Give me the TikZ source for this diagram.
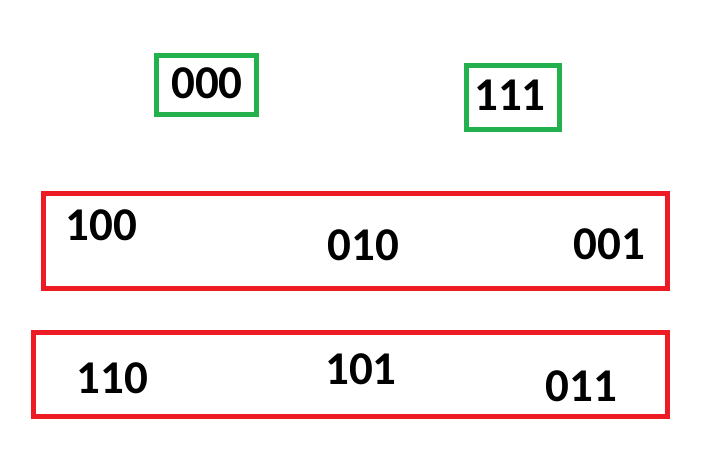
\documentclass[tikz,border=0pt]{standalone}
\usepackage{fontspec}
\setmainfont{Carlito}
\usetikzlibrary{positioning}
\definecolor{boxgreen}{HTML}{22B14C}
\definecolor{boxred}{HTML}{ED1C24}
\tikzset{
  word/.style={inner sep=0pt, font=\fontsize{47}{47}\selectfont\bfseries},
  greenbox/.style={draw=boxgreen, line width=5pt, inner sep=0pt},
  redbox/.style={draw=boxred, line width=5pt, inner sep=0pt}
}
\begin{document}
\begin{tikzpicture}[x=1pt, y=-1pt]
                \useasboundingbox (0,0) rectangle (709,454);
                \node [greenbox, minimum width=100pt, minimum height=59.3pt] (boxA) at (206.5,84.85) {};
                \node [greenbox, minimum width=92.8pt, minimum height=63.4pt] (boxB) at (512.9,97.5) {};
                \node [redbox, minimum width=623.5pt, minimum height=94.5pt] (rowA) at (355.25,240.75) {};
                \node [redbox, minimum width=633.5pt, minimum height=84pt] (rowB) at (350.25,374.5) {};
                \node [word] (w000) at (207,82.8) {000};
                \node [word] (w111) at (510,95.2) {111};
                \node [word] (w100) at (101.7,224.8) {100};
                \node [word] (w010) at (363.3,245) {010};
                \node [word] (w001) at (609.5,244.5) {001};
                \node [word] (w110) at (112.3,378.3) {110};
                \node [word] (w101) at (361,369.7) {101};
                \node [word] (w011) at (581.3,386.3) {011};
            \end{tikzpicture}
\end{document}
